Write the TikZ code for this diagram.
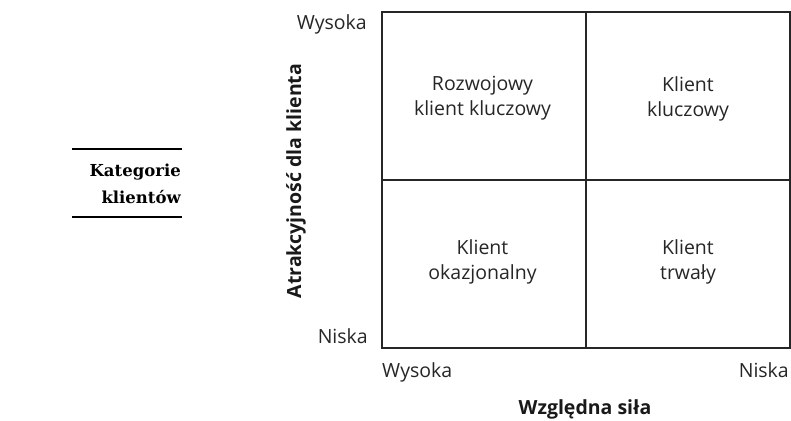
\documentclass[tikz,border=0pt]{standalone}
\usepackage{fontspec}
\setmainfont{Open Sans}
\newfontfamily\serifb{DejaVu Serif}
\begin{document}
\begin{tikzpicture}[x=1pt,y=-1pt,
  grid/.style={line width=2pt,draw=black!85},
  cell/.style={font=\fontsize{19.5}{25}\selectfont,align=center,text=black!85},
  tick/.style={font=\fontsize{19.5}{26}\selectfont,text=black!85,inner sep=0pt},
  axtitle/.style={font=\fontsize{19.5}{24}\selectfont\bfseries,text=black!90,inner sep=0pt},
  side/.style={font=\fontsize{16.5}{27}\selectfont\serifb\bfseries,align=right,inner sep=0pt},
  rule/.style={line width=1.8pt,draw=black}]
\useasboundingbox (0,0) rectangle (791,420);
\coordinate (tl) at (381.5,12);
\coordinate (br) at (790,347.5);
\coordinate (tm) at (586,12);
\coordinate (bm) at (586,347.5);
\coordinate (ml) at (381.5,180);
\coordinate (mr) at (790,180);
\draw[grid] (tl) rectangle (br);
\draw[grid] (tm) -- (bm);
\draw[grid] (ml) -- (mr);
\node[cell] (c1) at (482.5,98.5) {Rozwojowy\\klient kluczowy};
\node[cell] (c2) at (688,98.5) {Klient\\kluczowy};
\node[cell] (c3) at (482.5,262) {Klient\\okazjonalny};
\node[cell] (c4) at (688,262) {Klient\\trwały};
\node[tick,anchor=base east] (yh) at (367,30) {Wysoka};
\node[tick,anchor=base east] (yl) at (368,343) {Niska};
\node[tick,anchor=base west] (xh) at (382,377) {Wysoka};
\node[tick,anchor=base east] (xl) at (789,377) {Niska};
\node[axtitle,rotate=90] (ya) at (296,181) {Atrakcyjność dla klienta};
\node[axtitle,anchor=base] (xa) at (585,414) {Względna siła};
\coordinate (r1a) at (72,149);
\coordinate (r1b) at (182,149);
\coordinate (r2a) at (72,217);
\coordinate (r2b) at (182,217);
\draw[rule] (r1a) -- (r1b);
\draw[rule] (r2a) -- (r2b);
\node[side,anchor=base east] (kat) at (181,203) {Kategorie\\klientów};
\end{tikzpicture}
\end{document}
